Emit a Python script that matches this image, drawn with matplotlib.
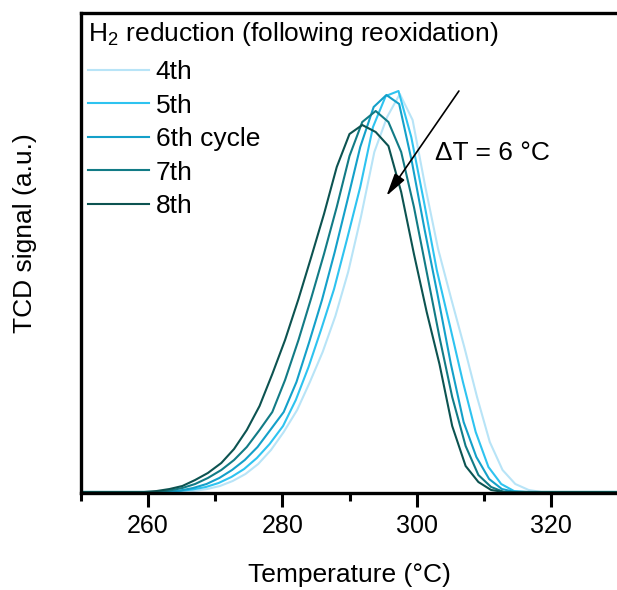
import numpy as np
import matplotlib
matplotlib.use("Agg")
import matplotlib.pyplot as plt

plt.rcParams['font.family'] = ['Liberation Sans', 'DejaVu Sans']
plt.rcParams['mathtext.fontset'] = 'custom'
plt.rcParams['mathtext.rm'] = 'Liberation Sans'
plt.rcParams['mathtext.it'] = 'Liberation Sans:italic'

# ---------------- data ----------------
labels = ["4th", "5th", "6th cycle", "7th", "8th"]
colors = ["#b8e4f7", "#2ec3f0", "#14a0c9", "#127b86", "#0c5351"]

t4 = [250, 264.9, 266.8, 268.8, 270.7, 272.6, 274.5, 276.4, 278.3, 280.2, 282.2, 284.1, 286.0,
      287.9, 289.8, 291.7, 293.7, 295.6, 297.5, 299.4, 301.3, 303.2, 305.2, 307.1, 309.0,
      310.9, 312.8, 314.7, 316.7, 318.6, 330]
s4 = [0, 0, 1, 3, 6, 11, 18, 28, 42, 60, 82, 110, 140,
      176, 220, 275, 340, 375, 398, 372, 305, 243, 192, 145, 95,
      50, 22, 8, 2, 0, 0]

t5 = [250, 262.8, 264.7, 266.6, 268.6, 270.5, 272.4, 274.3, 276.2, 278.1, 280.1, 282.0, 283.9,
      285.8, 287.7, 289.6, 291.6, 293.5, 295.4, 297.3, 299.2, 301.1, 303.0, 305.0, 306.9,
      308.8, 310.7, 312.6, 314.5, 316.5, 330]
s5 = [0, 0, 1, 2.5, 5, 9, 15, 23, 34, 48, 66, 92, 125,
      163, 203, 252, 305, 365, 396, 401, 355, 290, 222, 165, 110,
      60, 25, 8, 1, 0, 0]

t6 = [250, 262.9, 264.8, 266.7, 268.7, 270.6, 272.5, 274.4, 276.3, 278.2, 280.2, 282.1, 284.0,
      285.9, 287.8, 289.7, 291.6, 293.6, 295.5, 297.4, 299.3, 301.2, 303.1, 305.1, 307.0,
      308.9, 310.8, 312.7, 314.6, 330]
s6 = [0, 0, 1.5, 4, 8, 14, 22, 32, 45, 62, 80, 110, 150,
      192, 240, 292, 345, 385, 397, 388, 330, 262, 198, 128, 70,
      35, 13, 3, 0, 0]

t7 = [250, 261.3, 263.2, 265.1, 267.0, 268.9, 270.9, 272.8, 274.7, 276.6, 278.5, 280.4, 282.4,
      284.3, 286.2, 288.1, 290.0, 291.9, 293.9, 295.8, 297.7, 299.6, 301.5, 303.4, 305.3,
      307.3, 309.2, 311.1, 313.0, 330]
s7 = [0, 0, 1.5, 4, 8, 14, 22, 32, 45, 62, 80, 112, 152,
      194, 238, 285, 336, 370, 381, 370, 340, 285, 220, 155, 95,
      46, 17, 5, 0, 0]

t8 = [250, 259.4, 261.3, 263.2, 265.1, 267.0, 268.9, 270.9, 272.8, 274.7, 276.6, 278.5, 280.4,
      282.4, 284.3, 286.2, 288.1, 290.0, 291.9, 293.9, 295.8, 297.7, 299.6, 301.5, 303.4,
      305.3, 307.3, 309.2, 311.1, 313.0, 330]
s8 = [0, 0, 1, 3, 6, 12, 19, 29, 43, 62, 86, 118, 152,
      193, 235, 278, 325, 358, 367, 360, 346, 300, 238, 180, 128,
      66, 26, 10, 2, 0, 0]

temps = [t4, t5, t6, t7, t8]
signals = [s4, s5, s6, s7, s8]

x_ticks = [260, 280, 300, 320]
x_minor = [250, 270, 290, 310]

title_text = r"H$_\mathregular{2}$ reduction (following reoxidation)"
delta_text = "ΔT = 6 °C"

# ---------------- figure ----------------
W, H = 617, 590
fig = plt.figure(figsize=(W / 100, H / 100), dpi=100)
ax = fig.add_axes([81 / W, 1 - 493 / H, 537 / W, 480 / H])

for t, s, c, lab in zip(temps, signals, colors, labels):
    ax.plot(t, s, color=c, lw=1.5, label=lab)

ax.set_xlim(250, 330)
ax.set_ylim(-1, 479)
ax.set_xticks(x_ticks)
ax.set_xticks(x_minor, minor=True)
ax.set_yticks([])
ax.tick_params(axis='x', which='major', direction='out', length=10, width=2.2,
               labelsize=18, pad=5)
ax.tick_params(axis='x', which='minor', direction='out', length=6, width=2.2)
for sp in ['left', 'bottom', 'top']:
    ax.spines[sp].set_linewidth(2.4)
ax.spines['right'].set_visible(False)

ax.set_xlabel("Temperature (°C)", fontsize=19)
ax.xaxis.set_label_coords(0.5, -0.145)
ax.set_ylabel("TCD signal (a.u.)", fontsize=19)
ax.yaxis.set_label_coords(-0.082, 0.542)

ax.text(0.0131, 0.941, title_text, transform=ax.transAxes, fontsize=19,
        ha='left', va='baseline')
ax.legend(loc='upper left', bbox_to_anchor=(0.0131, 0.902), frameon=False,
          fontsize=19, handlelength=2.31, handletextpad=0.25, labelspacing=0.36,
          borderaxespad=0, borderpad=0)

ax.annotate("", xy=(295.5, 296), xytext=(306.3, 401),
            arrowprops=dict(arrowstyle='-|>,head_length=0.7,head_width=0.18',
                            color='black', lw=1.2, mutation_scale=20,
                            shrinkA=0, shrinkB=0))
ax.text(0.660, 0.694, delta_text, transform=ax.transAxes, fontsize=19,
        ha='left', va='baseline')

fig.savefig("out.png", dpi=100)
